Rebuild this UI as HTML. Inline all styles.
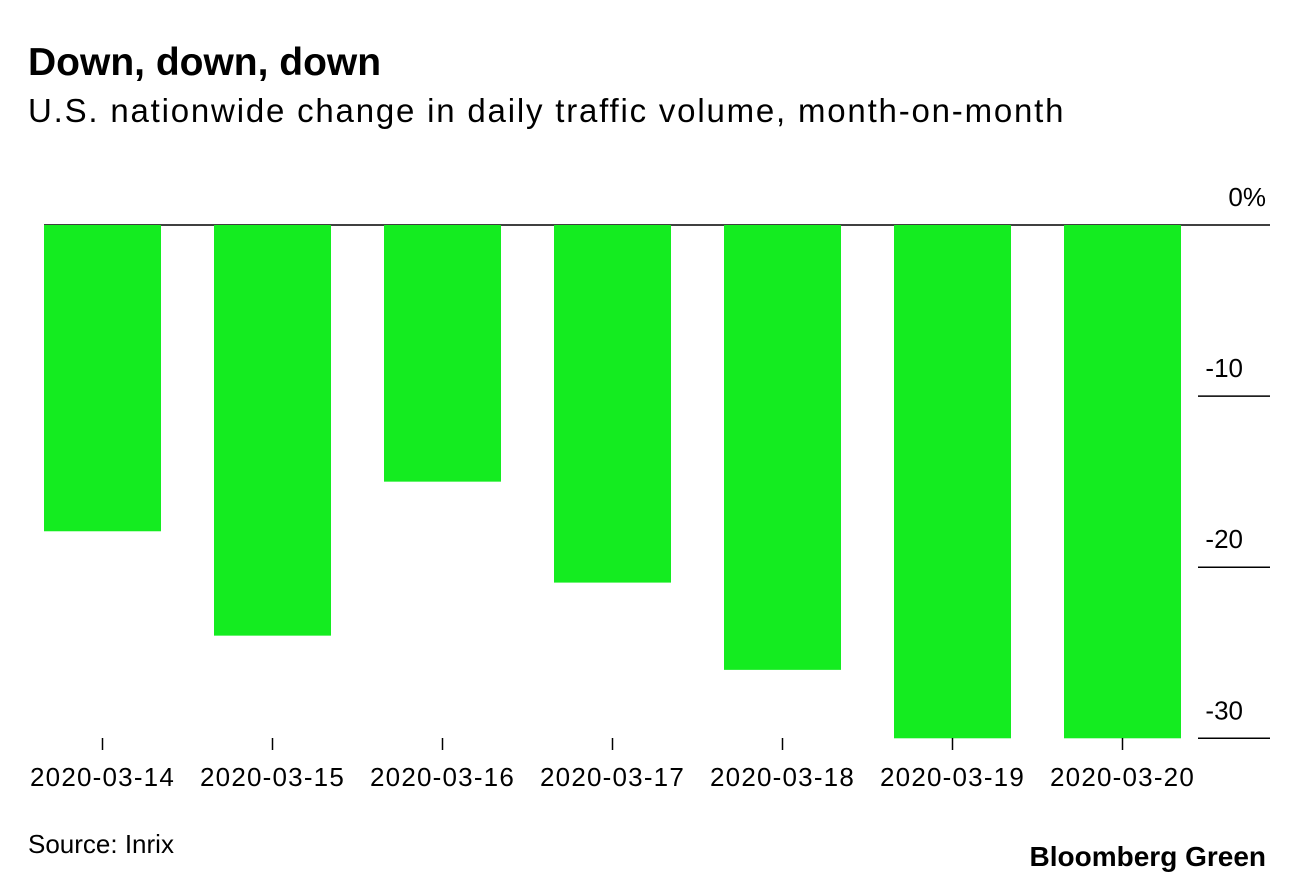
<!DOCTYPE html>
<html><head><meta charset="utf-8"><style>
body{margin:0;background:#fff;width:1296px;height:884px;overflow:hidden;font-family:"Liberation Sans",sans-serif}
svg{display:block}
</style></head><body>
<svg id="chart" width="1296" height="884">
<text x="28" y="75" font-size="39" font-weight="bold" fill="#000" letter-spacing="0">Down, down, down</text>
<text x="28" y="122" font-size="33" fill="#000" letter-spacing="1.8">U.S. nationwide change in daily traffic volume, month-on-month</text>
<g id="grid"></g>
<g id="bars"></g>
<g id="xaxis"></g>
<text x="28" y="853" font-size="26" fill="#000">Source: Inrix</text>
<text x="1266" y="866" font-size="28" font-weight="bold" text-anchor="end" fill="#000" letter-spacing="0">Bloomberg Green</text>
</svg>
<script>
const categories=["2020-03-14","2020-03-15","2020-03-16","2020-03-17","2020-03-18","2020-03-19","2020-03-20"];
const values=[-17.9,-24.0,-15.0,-20.9,-26.0,-30,-30];
const yTicks=[0,-10,-20,-30];
const yTickLabels=["0%","-10","-20","-30"];
const NS="http://www.w3.org/2000/svg";
const y=v=>225+(-v)*17.11;
const x0=44,pitch=170,bw=117;
const xc=i=>x0+i*pitch+bw/2;
function mk(t,a,p){const e=document.createElementNS(NS,t);for(const k in a)e.setAttribute(k,a[k]);p.appendChild(e);return e;}
const grid=document.getElementById('grid'),bars=document.getElementById('bars'),xa=document.getElementById('xaxis');
yTicks.forEach((v,i)=>{
 const l=mk('line',{x1:v===0?x0:1198,x2:1270,y1:y(v),y2:y(v),stroke:'#000','stroke-width':1.5},grid);
 
 
 const t=mk('text',{x:v===0?1266:1243,y:y(v)-19,'font-size':26,'text-anchor':'end',fill:'#000'},grid);
 t.textContent=yTickLabels[i];
 
 
});
categories.forEach((c,i)=>{
 const r=mk('rect',{x:xc(i)-bw/2,y:y(0),width:bw,height:y(values[i])-y(0),fill:'#14ec20'},bars);
 
 
 const tk=mk('line',{x1:xc(i),x2:xc(i),y1:738,y2:750,stroke:'#000','stroke-width':1.5},xa);
 
 
 const t=mk('text',{x:xc(i),y:786,'font-size':26,'text-anchor':'middle',fill:'#000','letter-spacing':1.2},xa);
 t.textContent=c;
 
 
});
</script>
</body></html>
